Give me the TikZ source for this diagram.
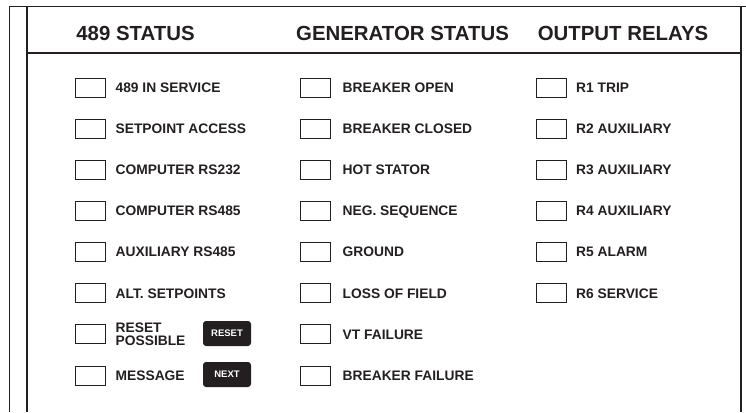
\documentclass[tikz,border=0pt]{standalone}
\usepackage{fontspec}
\setmainfont{Liberation Sans}
\usetikzlibrary{positioning}
\definecolor{inkgray}{HTML}{231F20}
\tikzset{
  lamp/.style={draw=inkgray, line width=0.9pt, minimum width=30pt, minimum height=19pt, inner sep=0pt},
  lamplabel/.style={font=\fontsize{13.8}{11}\selectfont\bfseries, text=inkgray, anchor=west,
    inner sep=0pt, align=left, text depth=0pt},
  heading/.style={font=\fontsize{20.4}{24}\selectfont\bfseries, text=inkgray, text depth=0pt},
  keybtn/.style={fill=inkgray, rounded corners=3pt, minimum width=48pt, minimum height=25pt,
    inner sep=0pt, text=white, font=\fontsize{9.5}{11}\selectfont\bfseries}
}
\begin{document}
\begin{tikzpicture}[x=1pt, y=-1pt]
  \useasboundingbox (0,0) rectangle (746,412);
  % frame
  \draw[inkgray, line width=1pt] (9,412) -- (9,7) -- (746,7);
  \draw[inkgray, line width=1.5pt] (27,7) -- (27,412);
  \draw[inkgray, line width=1.5pt] (741,7) -- (741,412);
  \draw[inkgray, line width=2.5pt] (27,53) -- (741,53);

  % headings
  \node[heading] (h489) at (135.5,33) {489 STATUS};
  \node[heading] (hgen) at (402.5,33) {GENERATOR STATUS};
  \node[heading] (hout) at (623,33) {OUTPUT RELAYS};

  % 489 status
  \foreach \lbl [count=\i from 0] in {489 IN SERVICE, SETPOINT ACCESS, COMPUTER RS232,
      COMPUTER RS485, AUXILIARY RS485, ALT. SETPOINTS, {RESET\\[1.8pt]POSSIBLE}, MESSAGE} {
    \node[lamp] (a\i) at (90, 87.5+41.14*\i) {};
    \node[lamplabel, right=10pt of a\i] (al\i) {\lbl};
  }
  % generator status
  \foreach \lbl [count=\i from 0] in {BREAKER OPEN, BREAKER CLOSED, HOT STATOR,
      NEG. SEQUENCE, GROUND, LOSS OF FIELD, VT FAILURE, BREAKER FAILURE} {
    \node[lamp] (g\i) at (315.5, 87.5+41.14*\i) {};
    \node[lamplabel, right=11.5pt of g\i] (gl\i) {\lbl};
  }
  % output relays
  \foreach \lbl [count=\i from 0] in {R1 TRIP, R2 AUXILIARY, R3 AUXILIARY,
      R4 AUXILIARY, R5 ALARM, R6 SERVICE} {
    \node[lamp] (r\i) at (551.5, 87.5+41.14*\i) {};
    \node[lamplabel, right=9pt of r\i] (rl\i) {\lbl};
  }

  % keys
  \node[keybtn] (reset) at (227,333.5) {RESET};
  \node[keybtn] (next) at (227,374.5) {NEXT};
\end{tikzpicture}
\end{document}
